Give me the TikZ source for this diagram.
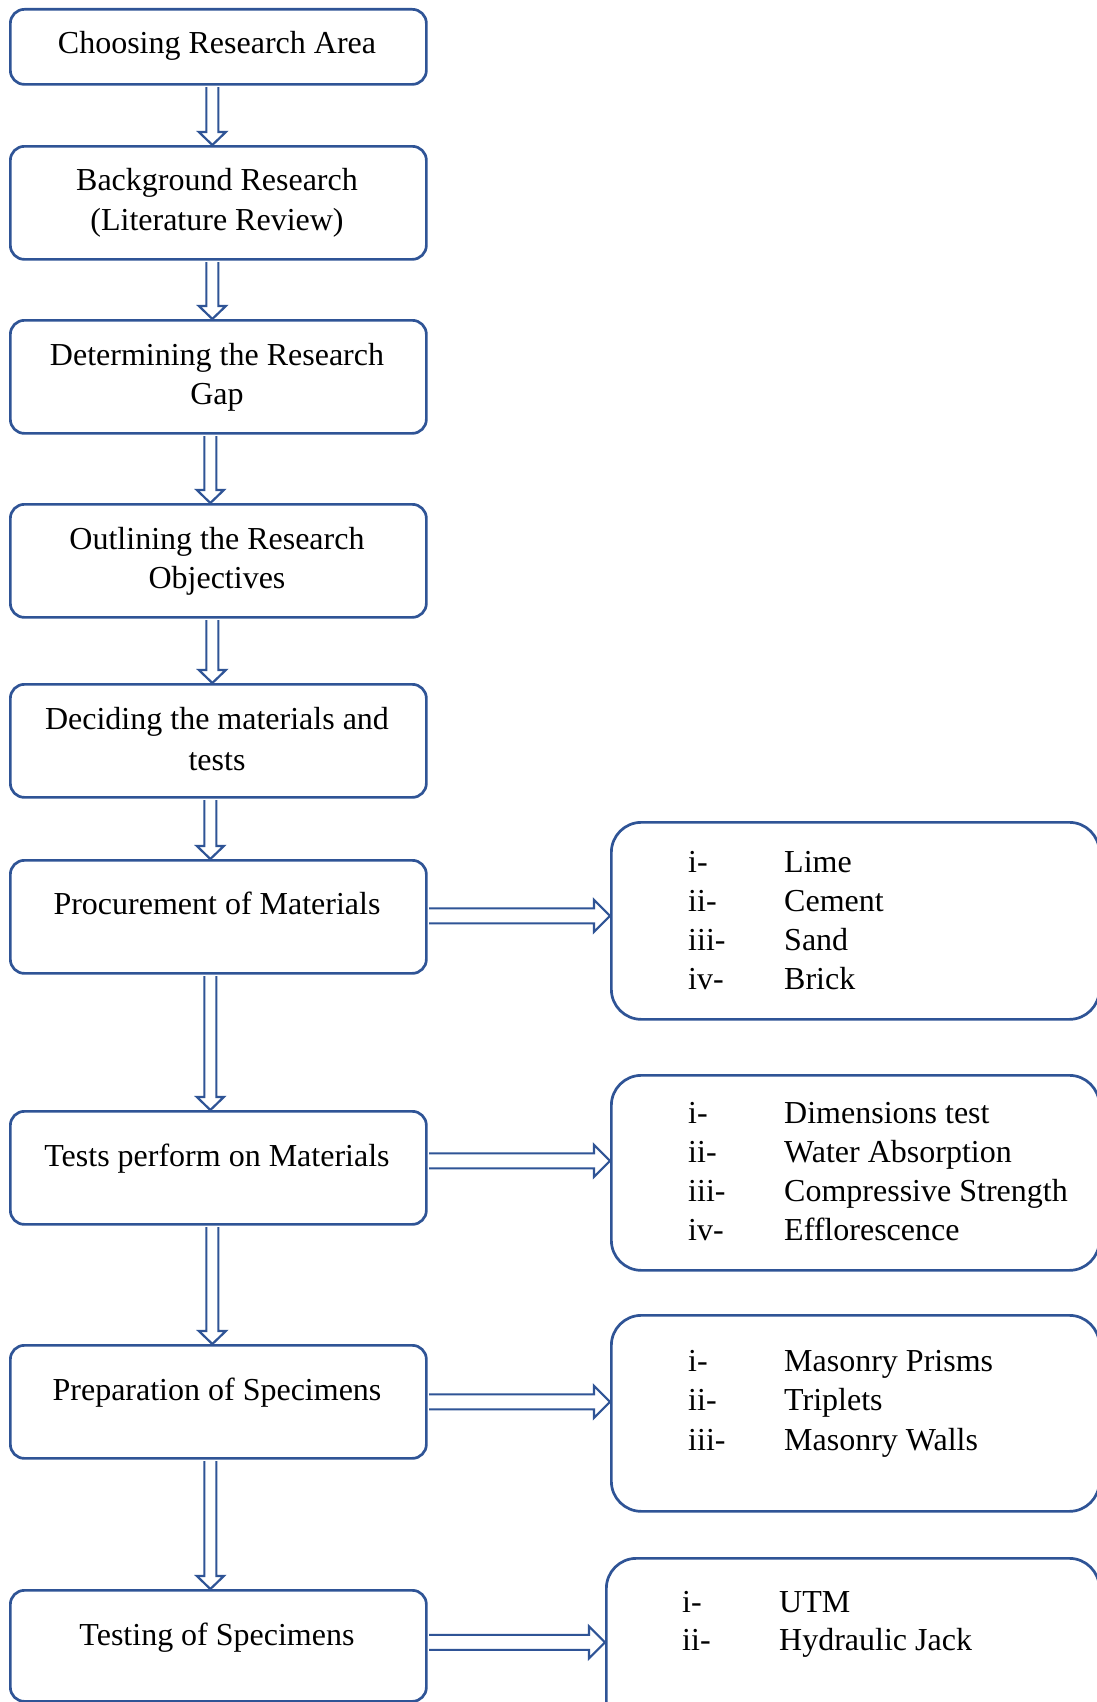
\documentclass[tikz,border=0pt]{standalone}
\usepackage{fontspec}
\setmainfont{Liberation Serif}
\usetikzlibrary{calc}
\definecolor{bblue}{RGB}{47,84,150}
\begin{document}
\begin{tikzpicture}[x=1pt,y=-1pt,
 lbox/.style={draw=bblue, line width=2.7pt, rounded corners=14pt, minimum width=416pt, inner sep=0pt, anchor=north west},
 rbox/.style={draw=bblue, line width=2.7pt, rounded corners=30pt, inner sep=0pt, anchor=north west},
 ltext/.style={font=\fontsize{32}{40}\selectfont, anchor=base, inner sep=0pt},
 itm/.style={font=\fontsize{32}{40}\selectfont, anchor=base west, inner sep=0pt},
 varrow/.style={draw=bblue, fill=white, line width=2.2pt, line join=miter,
   to path={let \p1=(\tikztostart),\p2=(\tikztotarget) in
   (\x1-6pt,\y1-1.3pt) -- (\x1-6pt,\y2+13pt) -- (\x1-13.5pt,\y2+13pt) -- (\x1,\y2) --
   (\x1+13.5pt,\y2+13pt) -- (\x1+6pt,\y2+13pt) -- (\x1+6pt,\y1-1.3pt)}},
 harrow/.style={draw=bblue, fill=white, line width=2.2pt, line join=miter,
   to path={let \p1=(\tikztostart),\p2=(\tikztotarget) in
   (\x1+1.3pt,\y1+7.5pt) -- (\x2-16pt,\y1+7.5pt) -- (\x2-16pt,\y1+16pt) -- (\x2,\y1) --
   (\x2-16pt,\y1-16pt) -- (\x2-16pt,\y1-7.5pt) -- (\x1+1.3pt,\y1-7.5pt)}}
]
\useasboundingbox (0,0) rectangle (1097,1702);
\fill[white] (0,0) rectangle (1097,1702);
\clip (0,0) rectangle (1097,1702);

% left boxes
\node[lbox, minimum height=75pt]  (b1) at (9,8) {};
\node[lbox, minimum height=113pt] (b2) at (9,145) {};
\node[lbox, minimum height=113pt] (b3) at (9,319) {};
\node[lbox, minimum height=113pt] (b4) at (9,503) {};
\node[lbox, minimum height=113pt] (b5) at (9,683) {};
\node[lbox, minimum height=113pt] (b6) at (9,859) {};
\node[lbox, minimum height=113pt] (b7) at (9,1110) {};
\node[lbox, minimum height=113pt] (b8) at (9,1344) {};
\node[lbox, minimum height=111pt] (b9) at (9,1589) {};

% right boxes (cut by the right edge)
\node[rbox, minimum width=488pt, minimum height=197pt] (r1) at (610,821) {};
\node[rbox, minimum width=488pt, minimum height=195pt] (r2) at (610,1074) {};
\node[rbox, minimum width=488pt, minimum height=196pt] (r3) at (610,1314) {};
\node[rbox, minimum width=493pt, minimum height=200pt] (r4) at (605,1557) {};

% vertical arrows
\draw[varrow] ($(b1.south)+(-6,0)$) to ($(b2.north)+(-6,0)$);
\draw[varrow] ($(b2.south)+(-6,0)$) to ($(b3.north)+(-6,0)$);
\draw[varrow] ($(b3.south)+(-8,0)$) to ($(b4.north)+(-8,0)$);
\draw[varrow] ($(b4.south)+(-6,0)$) to ($(b5.north)+(-6,0)$);
\draw[varrow] ($(b5.south)+(-8,0)$) to ($(b6.north)+(-8,0)$);
\draw[varrow] ($(b6.south)+(-8,0)$) to ($(b7.north)+(-8,0)$);
\draw[varrow] ($(b7.south)+(-6,0)$) to ($(b8.north)+(-6,0)$);
\draw[varrow] ($(b8.south)+(-8,0)$) to ($(b9.north)+(-8,0)$);

% horizontal arrows
\draw[harrow] ($(b6.east)+(0,-1)$) to (r1.west);
\draw[harrow] ($(b7.east)+(0,-7)$) to (r2.west);
\draw[harrow] (b8.east) to (r3.west);
\draw[harrow] ($(b9.east)+(0,-3.5)$) to (r4.west);

% left texts
\node[ltext] (t1) at (217,53) {Choosing Research Area};
\node[ltext] (t2a) at (217,190) {Background Research};
\node[ltext] (t2b) at (217,230) {(Literature Review)};
\node[ltext] (t3a) at (217,365) {Determining the Research};
\node[ltext] (t3b) at (217,404) {Gap};
\node[ltext] (t4a) at (217,549) {Outlining the Research};
\node[ltext] (t4b) at (217,588) {Objectives};
\node[ltext] (t5a) at (217,729) {Deciding the materials and};
\node[ltext] (t5b) at (217,770) {tests};
\node[ltext] (t6) at (217,914) {Procurement of Materials};
\node[ltext] (t7) at (217,1166) {Tests perform on Materials};
\node[ltext] (t8) at (217,1400) {Preparation of Specimens};
\node[ltext] (t9) at (217,1645) {Testing of Specimens};

% right lists
\node[itm] (r1n1) at (688,872) {i-};   \node[itm] (r1i1) at (784,872) {Lime};
\node[itm] (r1n2) at (688,911) {ii-};  \node[itm] (r1i2) at (784,911) {Cement};
\node[itm] (r1n3) at (688,950) {iii-}; \node[itm] (r1i3) at (784,950) {Sand};
\node[itm] (r1n4) at (688,989) {iv-};  \node[itm] (r1i4) at (784,989) {Brick};

\node[itm] (r2n1) at (688,1123) {i-};   \node[itm] (r2i1) at (784,1123) {Dimensions test};
\node[itm] (r2n2) at (688,1162) {ii-};  \node[itm] (r2i2) at (784,1162) {Water Absorption};
\node[itm] (r2n3) at (688,1201) {iii-}; \node[itm] (r2i3) at (784,1201) {Compressive Strength};
\node[itm] (r2n4) at (688,1240) {iv-};  \node[itm] (r2i4) at (784,1240) {Efflorescence};

\node[itm] (r3n1) at (688,1371) {i-};   \node[itm] (r3i1) at (784,1371) {Masonry Prisms};
\node[itm] (r3n2) at (688,1410) {ii-};  \node[itm] (r3i2) at (784,1410) {Triplets};
\node[itm] (r3n3) at (688,1450) {iii-}; \node[itm] (r3i3) at (784,1450) {Masonry Walls};

\node[itm] (r4n1) at (682,1612) {i-};   \node[itm] (r4i1) at (779,1612) {UTM};
\node[itm] (r4n2) at (682,1650) {ii-};  \node[itm] (r4i2) at (779,1650) {Hydraulic Jack};
\end{tikzpicture}
\end{document}
